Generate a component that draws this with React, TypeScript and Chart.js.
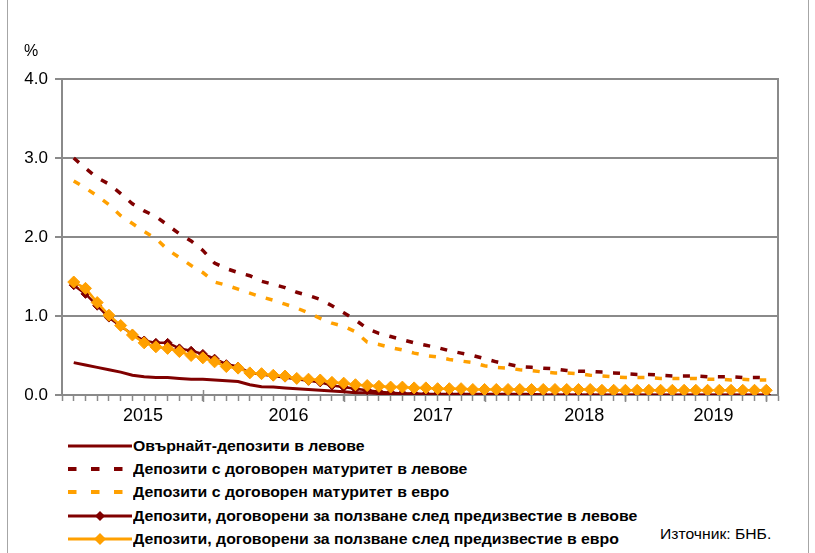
import React, { useEffect, useRef } from "react";
import { Chart, registerables } from "chart.js";

Chart.register(...registerables);

// ---- data (monthly observations, %) ----
const overnightBGN = [
  0.41, 0.38, 0.35, 0.32, 0.29, 0.25, 0.23, 0.22, 0.22, 0.21,
  0.20, 0.20, 0.19, 0.18, 0.17, 0.13, 0.105, 0.10, 0.09, 0.08,
  0.07, 0.06, 0.05, 0.04, 0.03, 0.03, 0.02, 0.02, 0.01, 0.01,
  0.01, 0.01, 0.01, 0.01, 0.01, 0.01, 0.01, 0.01, 0.01, 0.01,
  0.0, 0.0, 0.0, 0.0, 0.0, 0.0, 0.0, 0.0, 0.0, 0.0,
  0.0, 0.0, 0.0, 0.0, 0.0, 0.0, 0.0, 0.0, 0.0, 0.0,
];
const termBGN = [
  3.00, 2.87, 2.75, 2.67, 2.55, 2.42, 2.33, 2.26, 2.15, 2.04,
  1.95, 1.83, 1.67, 1.60, 1.55, 1.51, 1.44, 1.40, 1.36, 1.30,
  1.26, 1.21, 1.13, 1.04, 0.95, 0.84, 0.78, 0.74, 0.70, 0.66,
  0.63, 0.60, 0.56, 0.53, 0.50, 0.46, 0.42, 0.39, 0.36, 0.35,
  0.34, 0.33, 0.31, 0.30, 0.30, 0.29, 0.28, 0.27, 0.26, 0.26,
  0.25, 0.24, 0.24, 0.24, 0.23, 0.23, 0.23, 0.22, 0.22, 0.22,
];
const termEUR = [
  2.71, 2.62, 2.52, 2.41, 2.27, 2.17, 2.07, 1.98, 1.84, 1.74,
  1.64, 1.55, 1.43, 1.39, 1.34, 1.29, 1.24, 1.20, 1.15, 1.10,
  1.04, 0.97, 0.91, 0.87, 0.80, 0.67, 0.64, 0.60, 0.57, 0.53,
  0.50, 0.48, 0.45, 0.43, 0.41, 0.37, 0.35, 0.34, 0.32, 0.31,
  0.29, 0.28, 0.28, 0.27, 0.25, 0.24, 0.23, 0.22, 0.22, 0.22,
  0.21, 0.21, 0.21, 0.21, 0.20, 0.20, 0.19, 0.20, 0.19, 0.19,
];
const noticeBGN = [
  1.39, 1.28, 1.13, 0.98, 0.87, 0.77, 0.69, 0.66, 0.66, 0.59,
  0.56, 0.52, 0.46, 0.39, 0.36, 0.28, 0.26, 0.24, 0.22, 0.20,
  0.18, 0.16, 0.12, 0.10, 0.08, 0.06, 0.04, 0.03, 0.02, 0.02,
  0.01, 0.01, 0.01, 0.01, 0.01, 0.01, 0.01, 0.01, 0.01, 0.01,
  0.0, 0.0, 0.0, 0.0, 0.0, 0.0, 0.0, 0.0, 0.0, 0.0,
  0.0, 0.0, 0.0, 0.0, 0.0, 0.0, 0.0, 0.0, 0.0, 0.0,
];
const noticeEUR = [
  1.43, 1.35, 1.17, 1.01, 0.88, 0.76, 0.66, 0.61, 0.59, 0.55,
  0.50, 0.47, 0.42, 0.36, 0.34, 0.28, 0.27, 0.25, 0.24, 0.21,
  0.20, 0.19, 0.16, 0.15, 0.13, 0.12, 0.11, 0.10, 0.10, 0.09,
  0.09, 0.08, 0.08, 0.08, 0.07, 0.07, 0.07, 0.07, 0.07, 0.07,
  0.07, 0.07, 0.07, 0.07, 0.07, 0.06, 0.06, 0.06, 0.06, 0.06,
  0.06, 0.06, 0.06, 0.06, 0.06, 0.06, 0.06, 0.06, 0.06, 0.06,
];

const yearLabels = ["2015", "2016", "2017", "2018", "2019"];
const yearLabelPos = [6.9, 19.3, 31.6, 44.5, 55.5];
const majorTickPos = [12, 24, 36, 48, 60];

const legendLabels = [
  "Овърнайт-депозити в левове",
  "Депозити с договорен матуритет в левове",
  "Депозити с договорен матуритет в евро",
  "Депозити, договорени за ползване след предизвестие в левове",
  "Депозити, договорени за ползване след предизвестие в евро",
];
const sourceText = "Източник: БНБ.";
const unitText = "%";

// ---- styles ----
const DARK = "#800000";
const ORANGE = "#FFA000";
const GRID = "#8a8a8a";
const FONT = "'Liberation Sans', Arial, Helvetica, sans-serif";
const X_MAX = 61;

const toXY = (arr: number[]) => arr.map((y, i) => ({ x: i + 1, y }));

const framePlugin = {
  id: "frame",
  beforeDatasetsDraw(chart: any) {
    const { ctx, chartArea } = chart;
    const { top, bottom, right } = chartArea;
    const xs = chart.scales.x;
    ctx.save();
    ctx.strokeStyle = GRID;
    ctx.lineWidth = 2;
    ctx.beginPath();
    ctx.moveTo(right, top - 1);
    ctx.lineTo(right, bottom);
    ctx.stroke();
    ctx.lineWidth = 1.5;
    ctx.beginPath();
    majorTickPos.forEach((v) => {
      const px = Math.round(xs.getPixelForValue(v)) + 0.5;
      ctx.moveTo(px, bottom - 5);
      ctx.lineTo(px, bottom + 7);
    });
    ctx.stroke();
    ctx.restore();
  },
};

function LegendSample({ kind }: { kind: number }) {
  const w = 64;
  const h = 14;
  const cy = 7;
  if (kind === 0) {
    return (
      <svg width={w} height={h} style={{ display: "block" }}>
        <line x1={0} x2={w} y1={cy} y2={cy} stroke={DARK} strokeWidth={3} />
      </svg>
    );
  }
  if (kind === 1 || kind === 2) {
    return (
      <svg width={w} height={h} style={{ display: "block" }}>
        <line
          x1={0}
          x2={w}
          y1={cy}
          y2={cy}
          stroke={kind === 1 ? DARK : ORANGE}
          strokeWidth={4}
          strokeDasharray="8.5 14.5"
        />
      </svg>
    );
  }
  const col = kind === 3 ? DARK : ORANGE;
  const r = kind === 3 ? 5 : 6;
  const cx = 32;
  return (
    <svg width={w} height={h} style={{ display: "block" }}>
      <line x1={0} x2={w} y1={cy} y2={cy} stroke={col} strokeWidth={3} />
      <polygon
        points={`${cx},${cy - r} ${cx + r},${cy} ${cx},${cy + r} ${cx - r},${cy}`}
        fill={col}
      />
    </svg>
  );
}

export default function App() {
  const ref = useRef<HTMLCanvasElement | null>(null);

  useEffect(() => {
    if (!ref.current) return;
    const chart = new Chart(ref.current, {
      type: "line",
      data: {
        datasets: [
          {
            label: legendLabels[0],
            data: toXY(overnightBGN),
            borderColor: DARK,
            borderWidth: 3,
            pointRadius: 0,
            tension: 0,
            order: 5,
          },
          {
            label: legendLabels[1],
            data: toXY(termBGN),
            borderColor: DARK,
            borderWidth: 3.5,
            borderDash: [7, 10.5],
            borderCapStyle: "butt",
            pointRadius: 0,
            tension: 0,
            order: 4,
          },
          {
            label: legendLabels[2],
            data: toXY(termEUR),
            borderColor: ORANGE,
            borderWidth: 3.5,
            borderDash: [7, 10.5],
            borderCapStyle: "butt",
            pointRadius: 0,
            tension: 0,
            order: 3,
          },
          {
            label: legendLabels[3],
            data: toXY(noticeBGN),
            borderColor: DARK,
            borderWidth: 2.5,
            pointStyle: "rectRot",
            pointRadius: 4.5,
            pointBackgroundColor: DARK,
            pointBorderColor: DARK,
            pointBorderWidth: 1,
            tension: 0,
            order: 2,
          },
          {
            label: legendLabels[4],
            data: toXY(noticeEUR),
            borderColor: ORANGE,
            borderWidth: 2.5,
            pointStyle: "rectRot",
            pointRadius: 6,
            pointBackgroundColor: ORANGE,
            pointBorderColor: ORANGE,
            pointBorderWidth: 1,
            tension: 0,
            order: 1,
          },
        ],
      },
      options: {
        animation: false,
        responsive: false,
        maintainAspectRatio: false,
        events: [],
        layout: { padding: { left: 0, right: 37, top: 79, bottom: 0 } },
        plugins: {
          legend: { display: false },
          tooltip: { enabled: false },
        },
        scales: {
          x: {
            type: "linear",
            min: 0,
            max: X_MAX,
            afterFit: (s: any) => {
              s.height = 35;
            },
            afterBuildTicks: (s: any) => {
              const minor = Array.from({ length: X_MAX + 1 }, (_, i) => ({ value: i }));
              const labels = yearLabelPos.map((v) => ({ value: v }));
              s.ticks = [...minor, ...labels].sort((a, b) => a.value - b.value);
            },
            ticks: {
              autoSkip: false,
              maxRotation: 0,
              minRotation: 0,
              padding: 4,
              color: "#000",
              font: { family: FONT, size: 18 },
              callback: (v: any) => {
                const k = yearLabelPos.indexOf(Number(v));
                return k >= 0 ? yearLabels[k] : "";
              },
            },
            grid: {
              drawOnChartArea: false,
              drawTicks: true,
              tickLength: 6,
              tickWidth: 1.5,
              tickColor: (ctx: any) =>
                ctx.tick && yearLabelPos.indexOf(ctx.tick.value) >= 0
                  ? "rgba(0,0,0,0)"
                  : GRID,
            },
            border: { display: true, color: GRID, width: 2 },
          },
          y: {
            min: 0,
            max: 4,
            afterFit: (s: any) => {
              s.width = 62;
            },
            ticks: {
              stepSize: 1,
              padding: 7,
              color: "#000",
              font: { family: FONT, size: 17 },
              callback: (v: any) => Number(v).toFixed(1),
            },
            grid: {
              color: GRID,
              lineWidth: 2,
              drawTicks: true,
              tickLength: 7,
            },
            border: { display: true, color: GRID, width: 2 },
          },
        },
      },
      plugins: [framePlugin],
    } as any);
    return () => chart.destroy();
  }, []);

  const legendRowY = [446, 469, 492, 516, 539];

  return (
    <div
      style={{
        position: "absolute",
        left: 0,
        top: 0,
        width: 815,
        height: 553,
        background: "#fff",
        fontFamily: FONT,
        color: "#000",
        overflow: "hidden",
      }}
    >
      <div style={{ position: "absolute", left: 7, top: 0, width: 1, height: 553, background: "#a6a6a6" }} />
      <div style={{ position: "absolute", left: 808, top: 0, width: 1, height: 553, background: "#a6a6a6" }} />
      <canvas
        ref={ref}
        width={815}
        height={430}
        style={{ position: "absolute", left: 0, top: 0, width: 815, height: 430 }}
      />
      <div style={{ position: "absolute", left: 24, top: 43, fontSize: 16, lineHeight: "16px" }}>{unitText}</div>
      {legendLabels.map((lab, i) => (
        <div
          key={i}
          style={{
            position: "absolute",
            left: 68,
            top: legendRowY[i] - 8,
            height: 16,
            display: "flex",
            alignItems: "center",
            whiteSpace: "nowrap",
          }}
        >
          <LegendSample kind={i} />
          <span
            style={{
              marginLeft: 1,
              fontWeight: "bold",
              fontSize: 14,
              lineHeight: "16px",
              display: "inline-block",
              transform: "scaleX(1.13)",
              transformOrigin: "left center",
            }}
          >
            {lab}
          </span>
        </div>
      ))}
      <div
        style={{
          position: "absolute",
          left: 660,
          top: 527,
          fontSize: 14,
          lineHeight: "15px",
          whiteSpace: "nowrap",
          transform: "scaleX(1.12)",
          transformOrigin: "left center",
        }}
      >
        {sourceText}
      </div>
    </div>
  );
}
